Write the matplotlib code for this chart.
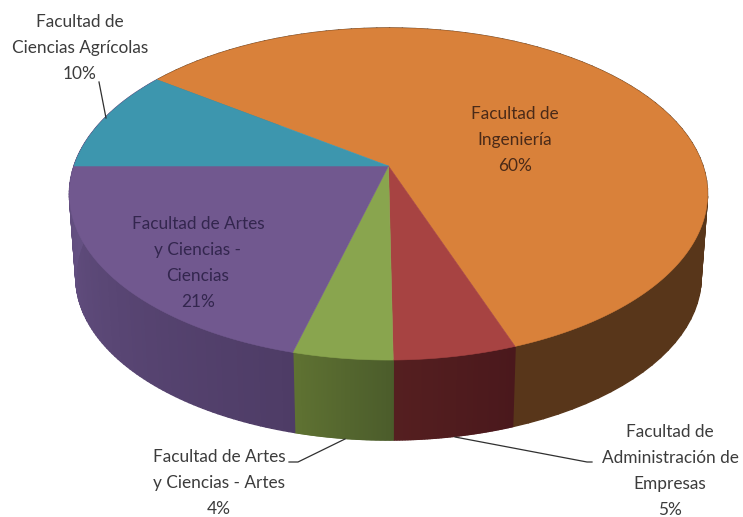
import numpy as np
import matplotlib
matplotlib.use('Agg')
import matplotlib.pyplot as plt
from matplotlib.patches import Polygon
from matplotlib.collections import PolyCollection
from matplotlib.colors import to_rgb

# slices, clockwise from the orange one
labels = ['Facultad de\nIngeniería', 'Facultad de\nAdministración de\nEmpresas',
          'Facultad de Artes\ny Ciencias - Artes', 'Facultad de Artes\ny Ciencias -\nCiencias',
          'Facultad de\nCiencias Agrícolas']
values = [59.5, 5.3, 4.3, 20.9, 10.0]
top_colors = ['#d9813a', '#a74342', '#89a54e', '#71588f', '#3d96ae']
# side wall colour at the start and the end of each slice (clockwise)
side_start = ['#58361a', '#4a181c', '#4b5c2b', '#4e3c66', '#645082']
side_end = ['#58361a', '#551f20', '#5f7232', '#645082', '#645082']
label_pos = [(515, 140), (670, 471), (219, 483), (198, 263), (80, 48)]
text_colors = ['#4a2a18', '#3c3c3c', '#3c3c3c', '#33264e', '#3c3c3c']

start_angle = 144

# perspective of the tilted disc, in pixels
cx, cy = 388.5, 166
rx, ry = 314.5, 133.3
persp = 0.1687
depth_scale = 0.98
bottom_y = 360
depth = 80


def project(theta):
    u, v = np.cos(theta), np.sin(theta)
    w = 1 + persp * v
    return cx + rx * u / w, (cy - ry * v) / w


def lower(x, y):
    return cx + depth_scale * (x - cx), bottom_y + depth + depth_scale * (y - bottom_y)


fig = plt.figure(figsize=(7.43, 5.17), dpi=100)
ax = fig.add_axes([0, 0, 1, 1])
ax.set_xlim(0, 743)
ax.set_ylim(517, 0)
ax.axis('off')

edges = start_angle - np.cumsum([0] + values) * 3.6

# wall first, the top goes over it
for i in range(len(values)):
    th = np.radians(np.linspace(edges[i], edges[i + 1], 80))
    x, y = project(th)
    xb, yb = lower(x, y)
    quads = []
    cols = []
    c0, c1 = np.array(to_rgb(side_start[i])), np.array(to_rgb(side_end[i]))
    for j in range(len(th) - 1):
        quads.append([(x[j], y[j]), (x[j + 1], y[j + 1]), (xb[j + 1], yb[j + 1]), (xb[j], yb[j])])
        cols.append(c0 + (c1 - c0) * j / (len(th) - 2))
    ax.add_collection(PolyCollection(quads, facecolors=cols, edgecolors=cols, linewidths=1.0, zorder=1))

for i in range(len(values)):
    th = np.radians(np.linspace(edges[i], edges[i + 1], 200))
    x, y = project(th)
    pts = np.column_stack([np.r_[cx, x], np.r_[cy, y]])
    ax.add_patch(Polygon(pts, closed=True, facecolor=top_colors[i], edgecolor=top_colors[i], linewidth=0.4, zorder=2))

# leader lines
ax.plot([99, 106], [82, 118], color='#303030', lw=0.9, zorder=3)
ax.plot([289, 298, 345], [462, 462, 439], color='#303030', lw=0.9, zorder=3)
ax.plot([455, 587, 592], [437, 462, 462], color='#303030', lw=0.9, zorder=3)

for i in range(len(values)):
    s = labels[i] + '\n%d%%' % round(values[i])
    ax.text(label_pos[i][0], label_pos[i][1], s, ha='center', va='center', family='Lato',
            fontsize=12.4, linespacing=1.76, color=text_colors[i], zorder=4)

fig.savefig('out.png', dpi=100)
